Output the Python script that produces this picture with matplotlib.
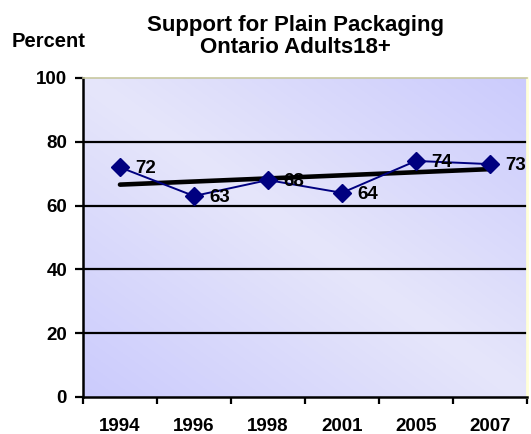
import numpy as np
import matplotlib.pyplot as plt
from matplotlib.colors import LinearSegmentedColormap

years = ['1994', '1996', '1998', '2001', '2005', '2007']
support = [72, 63, 68, 64, 74, 73]
y_ticks = [0, 20, 40, 60, 80, 100]

plt.rcParams['font.family'] = ['Liberation Sans', 'DejaVu Sans']
plt.rcParams['font.weight'] = 'bold'

fig = plt.figure(figsize=(5.31, 4.34), dpi=100)
ax = fig.add_axes([0.1563, 0.0853, 0.836, 0.735])

x = np.arange(len(years))
ax.set_xlim(-0.5, len(years) - 0.5)
ax.set_ylim(0, 100)

# gradient background: light along TL-BR diagonal, darker to the other corners
u, v = np.meshgrid(np.linspace(0, 1, 200), np.linspace(0, 1, 200))
t = np.abs(u + v - 1)
cmap = LinearSegmentedColormap.from_list('bg', ['#e6e6fa', '#cbcbfd'])
ax.imshow(t, cmap=cmap, origin='lower', aspect='auto',
          extent=[-0.5, len(years) - 0.5, 0, 100], zorder=0)

for yv in y_ticks[1:-1]:
    ax.axhline(yv, color='black', lw=1.6, zorder=1)

ax.plot(x, support, color='#000080', lw=1.4, marker='D', markersize=9,
        zorder=3)

# linear trend
k, b = np.polyfit(x, support, 1)
ax.plot(x, k * x + b, color='black', lw=3.3, zorder=2, solid_capstyle='round')

for xi, yi in zip(x, support):
    ax.annotate(str(yi), (xi, yi), xytext=(11, -1), textcoords='offset points',
                fontsize=13.5, fontweight='bold', va='center', ha='left',
                zorder=4, annotation_clip=False)

ax.set_yticks(y_ticks)
ax.set_yticklabels([str(v) for v in y_ticks], fontsize=13.5, fontweight='bold')
ax.set_xticks(x)
ax.set_xticklabels(years, fontsize=13.5, fontweight='bold')
ax.set_xticks(np.arange(-0.5, len(years)), minor=True)
ax.tick_params(axis='x', which='major', length=0, pad=15)
ax.tick_params(axis='x', which='minor', length=5, width=1.6, direction='out')
ax.tick_params(axis='y', length=5.5, width=1.6, direction='out', pad=6)

for side in ['left', 'bottom']:
    ax.spines[side].set_linewidth(1.8)
ax.spines['top'].set_color('#c8c8a0')
ax.spines['top'].set_linewidth(1.2)
ax.spines['right'].set_color('#ffffd8')
ax.spines['right'].set_linewidth(2)

fig.text(0.557, 0.965, 'Support for Plain Packaging\nOntario Adults18+',
         ha='center', va='top', fontsize=16, fontweight='bold', linespacing=1.08)
fig.text(0.022, 0.905, 'Percent', ha='left', va='center', fontsize=14.5,
         fontweight='bold')

fig.savefig('out.png', dpi=100)
